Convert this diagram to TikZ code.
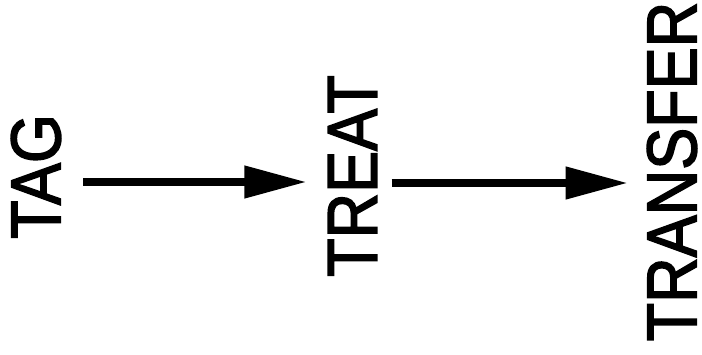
\documentclass[tikz,border=0pt]{standalone}
\usepackage{fontspec}
\setmainfont{Liberation Sans}
\newfontfamily\lblfont[FakeBold=2.2]{Liberation Sans}
\usetikzlibrary{arrows.meta}
\newcommand{\tallcaps}[1]{\scalebox{1}[1.12]{#1}}
\tikzset{
  lbl/.style={rotate=90, inner sep=0pt, outer sep=0pt, font=\lblfont\fontsize{63}{63}\selectfont},
  arr/.style={line width=7.5pt, -{Triangle[length=62pt,width=31pt]}}
}
\begin{document}
\begin{tikzpicture}[x=1pt,y=1pt]
\useasboundingbox (0,0) rectangle (702,354);
\node[lbl] (tag) at (36,177.5) {\tallcaps{TAG}};
\node[lbl] (treat) at (352.5,178) {\tallcaps{TREAT}};
\node[lbl] (transfer) at (672,182.5) {\tallcaps{TRANSFER}};
\draw[arr] ([shift={(22.3pt,-5.5pt)}]tag.south) -- ([shift={(-21.8pt,-6pt)}]treat.north);
\draw[arr] ([shift={(14.8pt,-7pt)}]treat.south) -- ([shift={(-19.3pt,-11.5pt)}]transfer.north);
\end{tikzpicture}
\end{document}
